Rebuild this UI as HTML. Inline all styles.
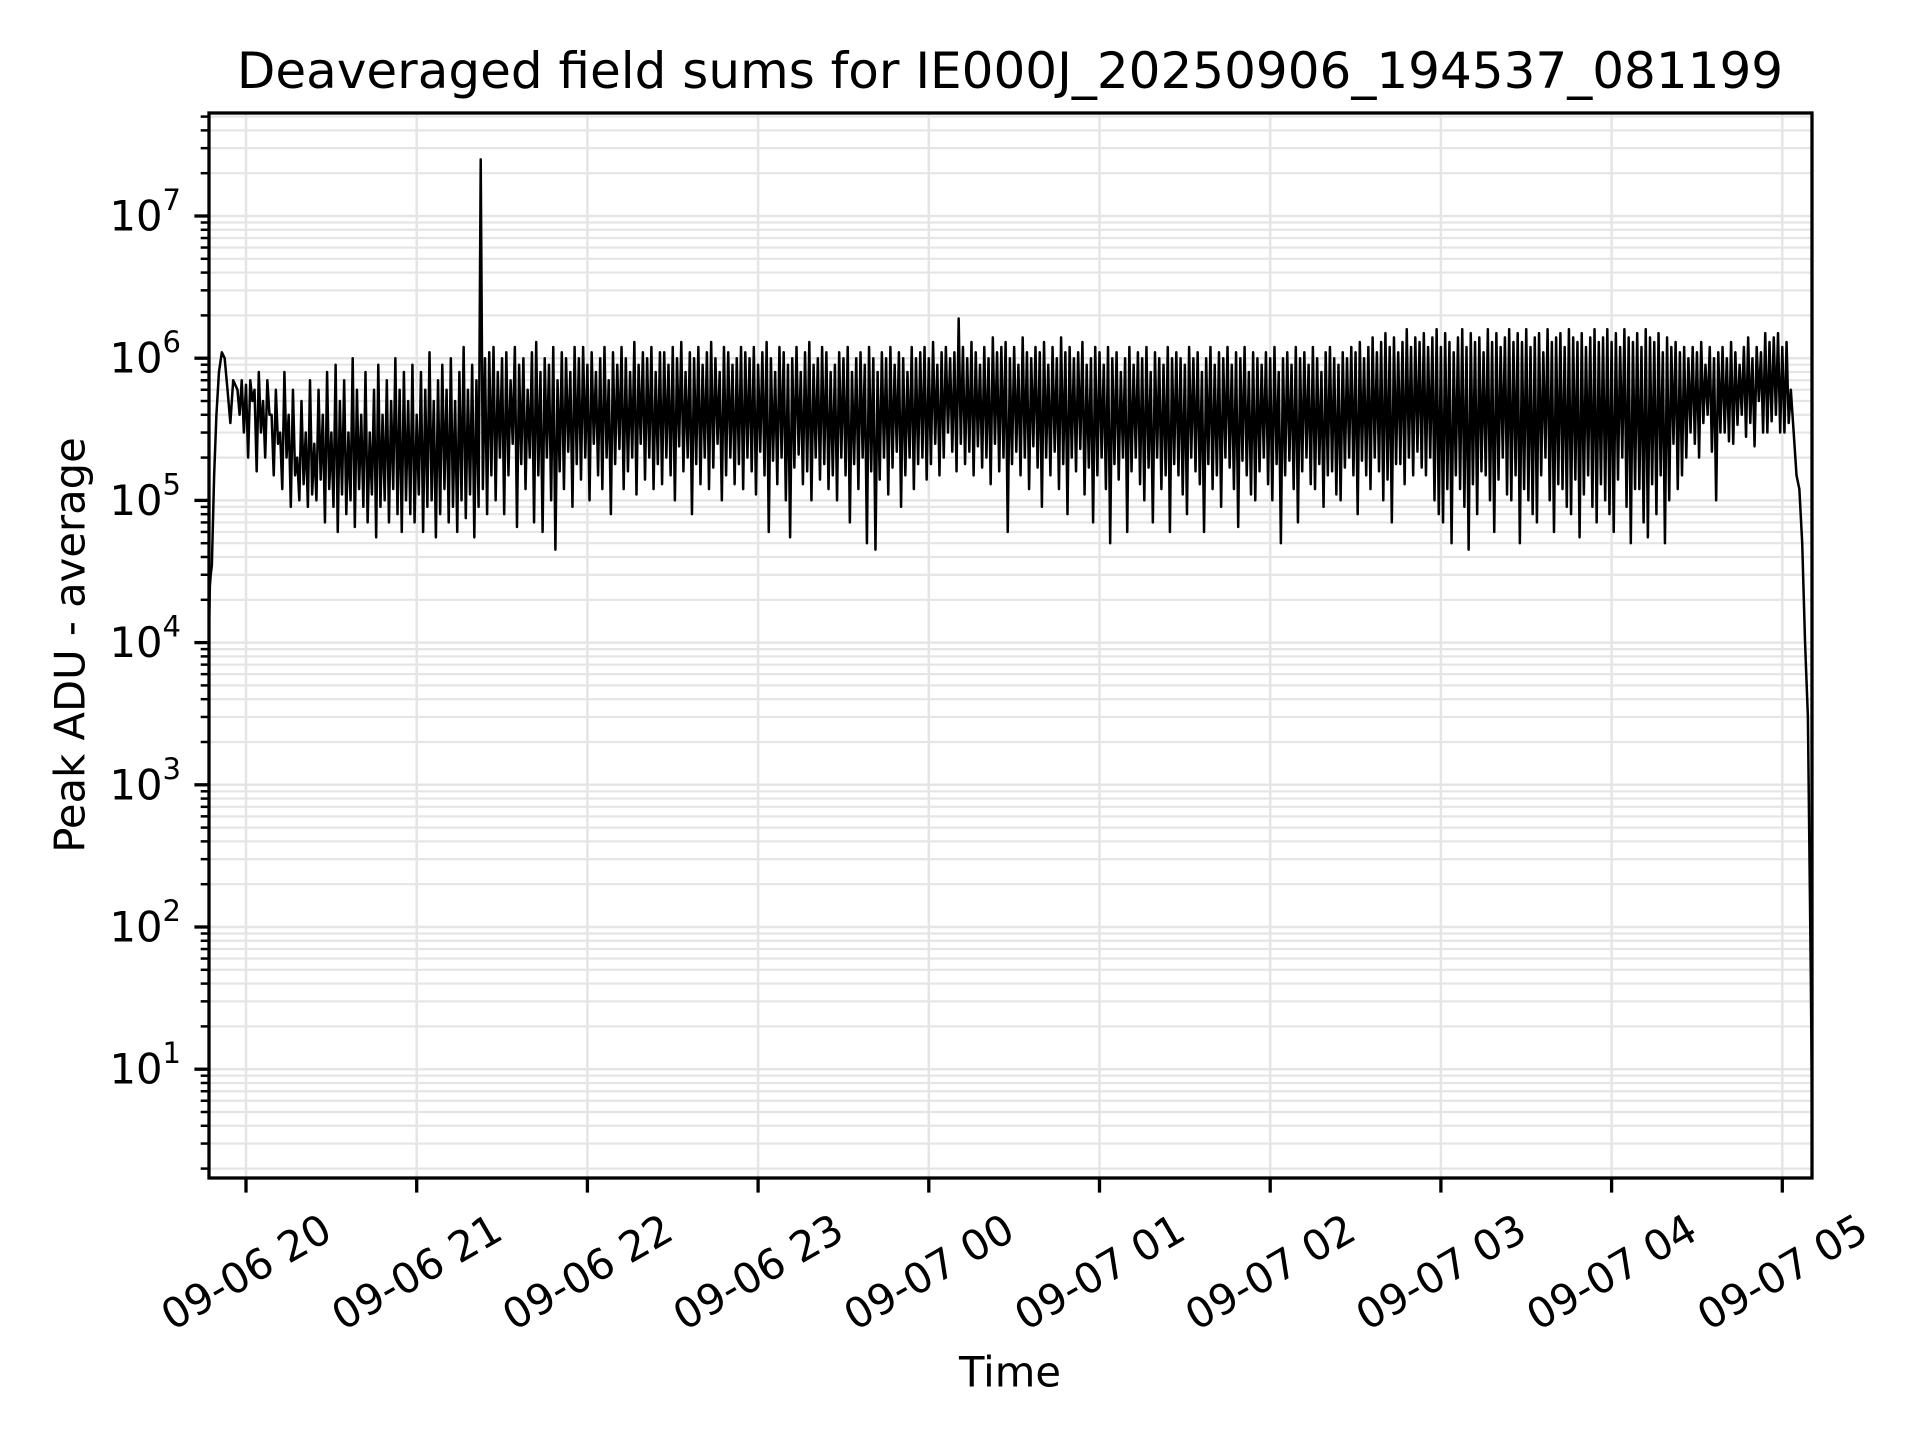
<!DOCTYPE html>
<html><head><meta charset="utf-8"><style>
html,body{margin:0;padding:0;background:#fff;}
svg{display:block;font-family:"DejaVu Sans","Liberation Sans",sans-serif;}
</style></head><body>
<svg id="chart" width="1920" height="1440" viewBox="0 0 1920 1440" xmlns="http://www.w3.org/2000/svg">
<rect x="0" y="0" width="1920" height="1440" fill="#fff"/>
<g id="grid"></g>
<g id="series"></g>
<g id="axes"></g>
<text x="1010" y="71" font-size="50" text-anchor="middle" dominant-baseline="central">Deaveraged field sums for IE000J_20250906_194537_081199</text>
<text x="70" y="645" font-size="41.7" text-anchor="middle" dominant-baseline="central" transform="rotate(-90 70 645)">Peak ADU - average</text>
<text x="1010" y="1372" font-size="41.7" text-anchor="middle" dominant-baseline="central">Time</text>
</svg>
<script>
// ---- data (minutes since 2025-09-06 20:00) ----
const xTickLabels = ["09-06 20","09-06 21","09-06 22","09-06 23","09-07 00","09-07 01","09-07 02","09-07 03","09-07 04","09-07 05"];
const xTickMinutes = [0,60,120,180,240,300,360,420,480,540];
const yTickExponents = [1,2,3,4,5,6,7];
const headTimes = [-13,-12.7,-12.4,-12,-11.2,-10.4,-9.5,-8.5,-7.5,-6.5,-5.5,-4.5];
const headValues = [1.2e4,2.5e4,3e4,3.5e4,1.5e5,4e5,8e5,1.1e6,1e6,6e5,3.5e5,7e5];
const bandStart = -3;
const bandStep = 1.5;
// per-bin maxima (units of 1e5)
const bandHighE5 = [
6,7,6.5,7,6,8,5,7,4,6,3,8,4,6,2,5,3,7,2.5,6,
4,8,3,9,5,7,3,10,6,4,8,3,6,9,4,7,5,10,6,8,
5,9,4,8,6,11,5,7,9,6,10,5,8,12,6,9,7,250,10,11,
12,8,10,11,7,12,9,10,6,11,13,8,10,9,12,7,11,10,8,12,
10,12,9,11,8,10,12,7,11,9,12,10,8,13,9,11,10,12,8,11,
11,9,12,10,13,8,11,10,12,9,11,13,10,8,12,11,9,10,12,11,
10,12,9,11,13,10,8,12,11,9,10,12,8,11,13,9,10,12,11,8,
9,11,10,12,8,10,11,9,12,10,8,11,10,12,9,11,10,8,12,10,
11,12,10,13,9,11,12,10,11,19,12,10,13,11,9,12,10,14,11,12,
13,10,12,9,14,11,10,12,11,13,9,12,10,14,11,12,10,11,13,9,
10,12,11,9,12,10,11,8,10,12,9,11,10,12,8,11,10,9,12,10,
11,10,9,12,10,11,8,10,12,9,11,10,12,9,11,10,12,8,11,10,
9,11,10,12,8,10,11,9,12,10,11,9,12,10,8,11,12,10,9,11,
10,12,11,13,10,12,14,11,13,15,12,14,11,13,16,12,14,13,15,12,
14,16,12,15,13,11,14,16,12,15,13,14,11,16,13,15,12,14,16,13,
15,13,16,12,14,15,11,16,13,14,15,12,16,14,13,15,12,14,16,13,
14,16,13,15,12,16,14,13,15,12,16,14,13,15,11,14,12,13,11,12,
10,12,11,13,9,12,10,11,12,10,13,11,9,12,14,10,12,11,15,13,
14,15,12,13
];
// per-bin minima (units of 1e5)
const bandLowE5 = [
4,3,2,5,1.6,3,2,4,1.5,2.5,1.2,2,0.9,1.5,1,1.3,0.9,1.1,1,1.4,
0.7,1.2,0.9,0.6,1.1,0.8,1,0.65,1.2,0.9,0.7,1.1,0.55,0.9,1,0.7,1.2,0.8,0.6,1,
0.8,0.7,1.1,0.6,0.9,1,0.55,0.8,1.2,0.7,0.9,0.6,1,0.75,1.1,0.55,0.9,1.2,0.8,1.5,
1,2,0.8,1.5,2.5,0.65,1.8,1.2,2,0.7,1.5,0.6,2,1,0.45,1.6,1.2,2.2,0.9,1.8,
1.4,2,1,2.5,1.5,1.2,2,0.8,1.8,2.3,1.2,1.6,2,1.1,2.5,1.4,2,1.2,1.8,1.3,
2,1.5,1,2.4,1.6,2,0.8,1.8,1.3,2,1.2,1.7,2.5,1,1.5,2,1.3,1.8,1.2,2,
1.6,1.1,2.2,1.5,0.6,1.9,1.3,2,1,0.55,1.7,2.1,1.3,1.6,1,2,1.4,1.8,1.2,1.5,
1,2,1.5,0.7,1.8,1.2,2,0.5,1.6,0.45,1.4,2,1.1,1.7,2.2,0.9,1.5,2,1.2,1.8,
2,1.4,1.8,2.5,1.5,2,3,2.2,1.6,2.5,1.8,2.2,1.5,2.4,1.7,2,1.3,2.5,1.6,2,
0.6,1.8,2.2,1.5,2,1.2,2.4,1.7,0.9,2,1.5,2.2,1.2,1.8,0.8,2,1.6,2.3,1.1,1.7,
0.7,1.5,2,1.2,0.5,1.8,1.4,2,0.6,1.6,2,1.3,1,1.7,0.7,2,1.2,1.5,0.6,1.8,
1.5,1.1,0.8,2,1.6,1.3,0.6,1.8,1.2,1.5,0.9,2,1.7,1.2,0.65,1.9,1.5,1.1,1,1.6,
2,1.3,1,1.8,0.5,1.5,1.9,1.2,0.7,1.6,2,1.3,1.2,1.8,0.9,1.5,1.6,1.1,1,1.7,
2,1.5,0.8,1.9,1.5,1.2,2,1.6,1,1.4,0.7,1.8,1.8,1.3,2,1.5,2.2,1.7,1.5,2,
1,0.8,0.7,1.2,0.5,1.5,1.2,0.9,0.45,1.3,0.8,1.6,1.5,1,0.6,1.4,2,1.1,1,1.5,
0.5,1.2,1,0.8,0.7,1.5,2,1,0.6,1.3,1.2,0.9,0.8,1.4,0.55,1.1,1.5,0.9,0.7,1.3,
1,0.8,0.6,1.4,2,0.9,0.5,1.2,1.2,0.7,0.55,1.3,0.8,1.5,0.5,1,2.5,1.2,1.5,2,
3,2.5,2,3.5,4,2.2,1,3,3,2.6,2.5,3.4,4,2.8,3.5,2.4,5,3,3,3.6,
4,3,3,3.5
];
const tailTimes = [543,544,545,546,547,548,549,550,550.5];
const tailValues = [6e5,3e5,1.5e5,1.2e5,5e4,1e4,3e3,50,4];

// ---- axes geometry ----
const L=209, R=1812, T=113, B=1178;
const X0=246, PXPERMIN=170.7/60;
const Y7=216, DEC=142.2;
const xs = m => X0 + m*PXPERMIN;
const ys = v => Y7 + (7 - Math.log10(v))*DEC;
const NS="http://www.w3.org/2000/svg";
function mk(tag, attrs, parent){const e=document.createElementNS(NS,tag);for(const k in attrs)e.setAttribute(k,attrs[k]);parent.appendChild(e);return e;}
const grid=document.getElementById('grid'), axes=document.getElementById('axes'), series=document.getElementById('series');
const GC="#e5e5e5";
const lnTop=7+(Y7-T)/DEC, lnBot=7-(B-Y7)/DEC;
for(let e=Math.floor(lnBot); e<=Math.ceil(lnTop); e++){
  for(let m=1;m<=9;m++){
    const v=m*Math.pow(10,e); const y=ys(v);
    if(y<T-0.5||y>B+0.5) continue;
    const g=mk('line',{x1:L,x2:R,y1:y,y2:y,stroke:GC,'stroke-width':m===1?2.5:2.2},grid);
    
    
    const t=mk('line',{x1:L,x2:L-(m===1?14.6:8.3),y1:y,y2:y,stroke:'#000','stroke-width':m===1?3.3:2.5},axes);
    
    
  }
}
yTickExponents.forEach(e=>{
  const y=ys(Math.pow(10,e));
  const tx=mk('text',{x:181,y:y,'font-size':41.7,'text-anchor':'end','dominant-baseline':'central'},axes);
  
  
  tx.textContent='10';
  const sp=document.createElementNS(NS,'tspan');sp.setAttribute('dy','-16');sp.setAttribute('font-size','29');sp.textContent=String(e);tx.appendChild(sp);
});
xTickMinutes.forEach((m,i)=>{
  const x=xs(m);
  const g=mk('line',{x1:x,x2:x,y1:T,y2:B,stroke:GC,'stroke-width':2.5},grid);
  
  
  const t=mk('line',{x1:x,x2:x,y1:B,y2:B+14.6,stroke:'#000','stroke-width':3.3},axes);
  
  
  const cy=1272;
  const tx=mk('text',{x:x,y:cy,'font-size':41.7,'text-anchor':'middle','dominant-baseline':'central',transform:`rotate(-30 ${x} ${cy})`},axes);
  
  
  tx.textContent=xTickLabels[i];
});
const fr=mk('rect',{x:L,y:T,width:R-L,height:B-T,fill:'none',stroke:'#000','stroke-width':3.3},axes);


// series
const times=[], vals=[];
headTimes.forEach((t,i)=>{times.push(t);vals.push(headValues[i]);});
bandHighE5.forEach((v,i)=>{
  const t=bandStart+i*bandStep;
  times.push(t);vals.push(v*1e5);
  times.push(t+bandStep/2);vals.push(bandLowE5[i]*1e5);
});
tailTimes.forEach((t,i)=>{times.push(t);vals.push(tailValues[i]);});
const cp=mk('clipPath',{id:'clip'},series);
mk('rect',{x:L,y:T,width:R-L,height:B-T},cp);
const d=times.map((t,i)=>(i?'L':'M')+xs(t).toFixed(2)+' '+ys(vals[i]).toFixed(2)).join(' ');
const p=mk('path',{d:d,fill:'none',stroke:'#000','stroke-width':2.5,'stroke-linejoin':'round','clip-path':'url(#clip)'},series);


</script>
</body></html>
